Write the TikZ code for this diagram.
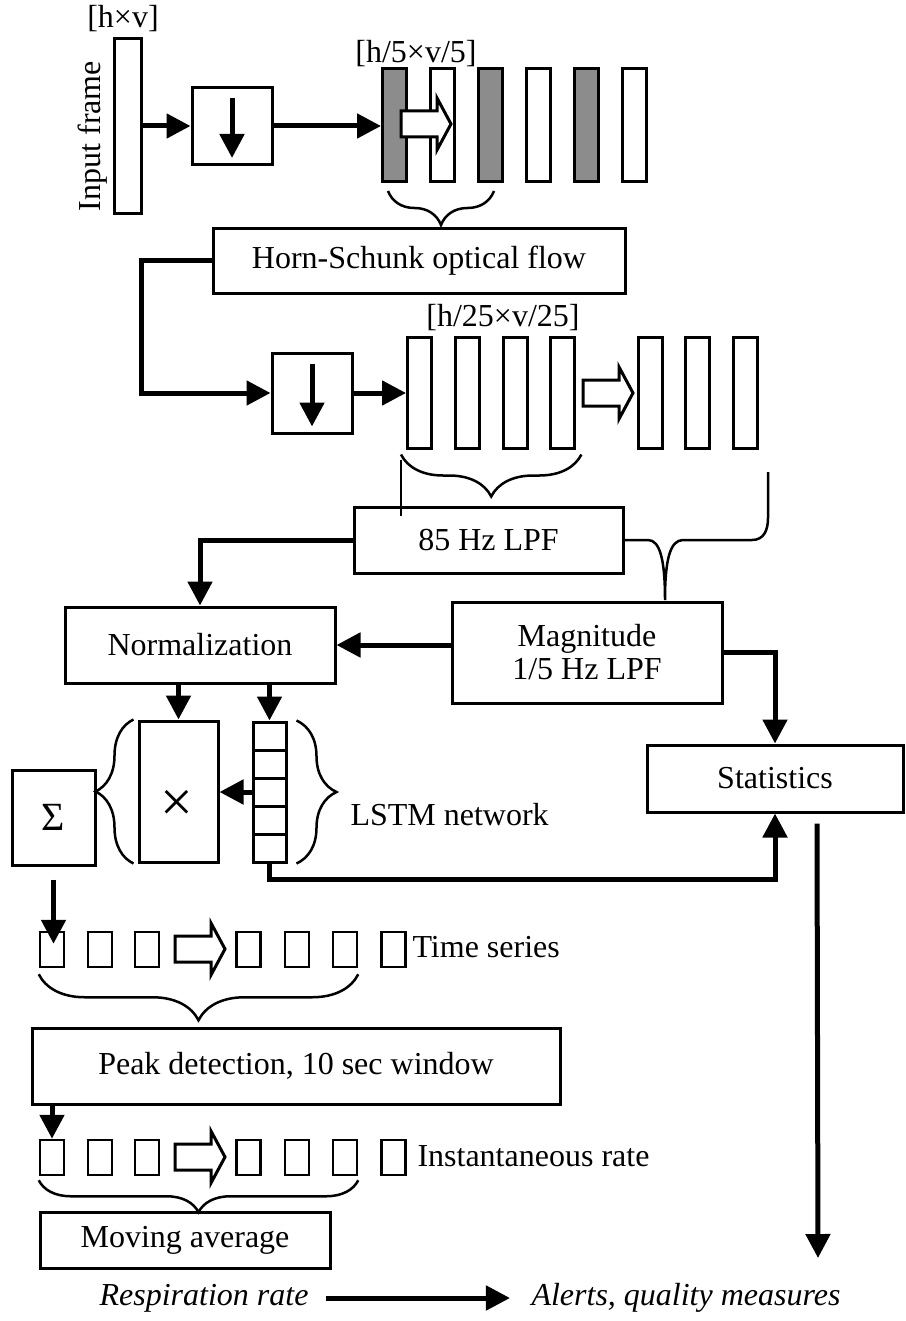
\documentclass[tikz,border=0pt]{standalone}
\usepackage{fontspec}
\setmainfont{Liberation Serif}
\usetikzlibrary{arrows.meta,decorations.pathreplacing}

\tikzset{
  blk/.style={draw, line width=3pt, inner sep=0pt, align=center},
  frm/.style={draw, line width=3pt, minimum width=24pt, minimum height=113pt, inner sep=0pt, fill=white},
  smp/.style={draw, line width=2.5pt, minimum width=24pt, minimum height=35pt, inner sep=0pt},
  cell/.style={draw, line width=3pt, minimum width=33pt, minimum height=28pt, inner sep=0pt},
  arr/.style={line width=5pt, -{Triangle[length=24pt,width=24pt]}},
  lnk/.style={line width=2.5pt},
  brc/.style={line width=2.5pt, decorate, decoration={brace, amplitude=#1}},
  fat/.style={line width=3pt, fill=white, line join=miter}
}

% hollow block arrow, tail at #1
\newcommand{\fatarrow}[1]{%
  \draw[fat] (#1) ++(0,-13) -- ++(36,0) -- ++(0,-13) -- ++(14,26) -- ++(-14,26) -- ++(0,-13) -- ++(-36,0) -- cycle;}

\begin{document}
\begin{tikzpicture}[x=1pt, y=-1pt, font=\fontsize{32}{37}\selectfont]
  \useasboundingbox (0,0) rectangle (905,1321);

  % input frame and first decimation
  \node (dimin) at (123,19) {[h×v]};
  \node[frm, minimum width=27pt, minimum height=175pt] (inframe) at (128,126) {};
  \node[rotate=90] (inlbl) at (93,136) {Input frame};
  \node[blk, minimum width=80pt, minimum height=77pt] (ds1) at (232,126) {};
  \draw[arr] (inframe.east) -- (ds1.west);
  \draw[arr] ([yshift=-12pt]ds1.north) -- ([yshift=8pt]ds1.south);

  \foreach \i/\c in {1/black!45,2/white,3/black!45,4/white,5/black!45,6/white}
    \node[frm, fill=\c] (f\i) at ({394.5+48*(\i-1)},125) {};
  \draw[arr] (ds1.east) -- (ds1.east -| f1.west);
  \fatarrow{401,124}
  \node (dima) at (416,54) {[h/5×v/5]};
  \draw[brc=34pt] ([shift={(-10,8)}]f3.south east) -- ([shift={(7,8)}]f1.south west);

  % optical flow and second decimation
  \node[blk, minimum width=412pt, minimum height=65pt] (hs) at (419,261) {Horn-Schunk optical flow};
  \node[blk, minimum width=80pt, minimum height=80pt] (ds2) at (312,393) {};
  \draw[arr] (hs.west) -- ++(-70,0) |- (ds2.west);
  \draw[arr] ([yshift=-12pt]ds2.north) -- ([yshift=8pt]ds2.south);
  \foreach \i in {1,...,4}
    \node[frm, minimum height=111pt] (g\i) at ({419.5+47.8*(\i-1)},392.5) {};
  \draw[arr] (ds2.east) -- (ds2.east -| g1.west);
  \node (dimb) at (503,318) {[h/25×v/25]};
  \fatarrow{583,393}
  \foreach \i in {1,2,3}
    \node[frm, minimum height=111pt] (r\i) at ({650+47.5*(\i-1)},392.5) {};

  % filters
  \node[blk, minimum width=269pt, minimum height=66pt] (lpf) at (488.5,540) {85 Hz LPF};
  \node[blk, minimum width=270pt, minimum height=101pt, font=\fontsize{32}{33}\selectfont] (mag) at (587,652.5) {Magnitude\\1/5 Hz LPF};
  \draw[brc=42pt] ([shift={(5,5)}]g4.south east) -- ([shift={(-5,5)}]g1.south west);
  \draw[lnk] ([shift={(-5,10)}]g1.south west) -- ([shift={(-5,10)}]g1.south west |- lpf.north);
  \draw[lnk] (lpf.east) -- (648,540) .. controls (660,540) and (665,560) .. (665,600)
    .. controls (665,560) and (670,540) .. (683,540) -- (752,540)
    .. controls (764,540) and (768,530) .. (768,518) -- (768,472);

  % normalization, weighting and statistics
  \node[blk, minimum width=270pt, minimum height=76pt] (norm) at (200,645) {Normalization};
  \draw[arr] (lpf.west) -| (norm.north);
  \draw[arr] (mag.west |- norm.east) -- (norm.east);
  \node[blk, minimum width=256pt, minimum height=67pt] (stat) at (775,778.5) {Statistics};
  \draw[arr] (mag.east) -| (stat.north);

  \node[blk, minimum width=79pt, minimum height=141pt] (mult) at (178.5,791.5) {};
  \node (xsym) at (177,806) {\fontsize{58}{58}\selectfont ×};
  \foreach \i in {1,...,5}
    \node[cell] (c\i) at (269.5,{736+28*(\i-1)}) {};
  \draw[arr] (norm.south -| mult.north) -- (mult.north);
  \draw[arr] (norm.south -| c1.north) -- (c1.north);
  \draw[arr] (c3.west) -- (mult.east |- c3.west);
  \draw[brc=38pt] ([xshift=-4pt]mult.south west) -- ([xshift=-4pt]mult.north west);
  \draw[brc=40pt] ([xshift=9pt]c1.north east) -- ([xshift=9pt]c5.south east);
  \node[anchor=west] (lstmlbl) at (347,815) {LSTM network};
  \node[blk, minimum width=83pt, minimum height=95pt] (sig) at (53.5,817.5) {\fontsize{40}{40}\selectfont Σ};
  \draw[arr] (c5.south) -- ++(0,16) -| (stat.south);

  % time series and peak detection
  \foreach \i/\x in {1/52,2/100,3/147,4/248.5,5/297,6/345,7/393.5}
    \node[smp] (t\i) at (\x,949.5) {};
  \fatarrow{175,949}
  \node[anchor=west] (tslbl) at (409,947) {Time series};
  \draw[arr] ([yshift=-13pt]sig.south) -- ([yshift=-13pt]sig.south |- t1.north);
  \draw[brc=46pt] ([yshift=-6pt]t6.south east) -- ([yshift=-6pt]t1.south west);
  \node[blk, minimum width=528pt, minimum height=76pt] (peak) at (296,1066) {Peak detection, 10 sec window};

  \foreach \i/\x in {1/52,2/100,3/147,4/248.5,5/297,6/345,7/393.5}
    \node[smp] (i\i) at (\x,1157.5) {};
  \fatarrow{175,1157}
  \node[anchor=west] (instlbl) at (414,1156) {Instantaneous rate};
  \draw[arr] (peak.south -| i1.north) -- (i1.north);
  \draw[brc=32pt] ([yshift=-4pt]i6.south east) -- ([yshift=-4pt]i1.south west);
  \node[blk, minimum width=290pt, minimum height=56pt] (avg) at (185,1240) {Moving average};

  % outputs
  \node (resp) at (204,1298) {\itshape Respiration rate};
  \node (alerts) at (686,1298) {\itshape Alerts, quality measures};
  \draw[arr] ([xshift=14pt]resp.east) -- ([xshift=-18pt]alerts.west);
  \coordinate (statout) at (818,1258);
  \draw[arr] ([shift={(42,10)}]stat.south) -- (statout);
\end{tikzpicture}
\end{document}
